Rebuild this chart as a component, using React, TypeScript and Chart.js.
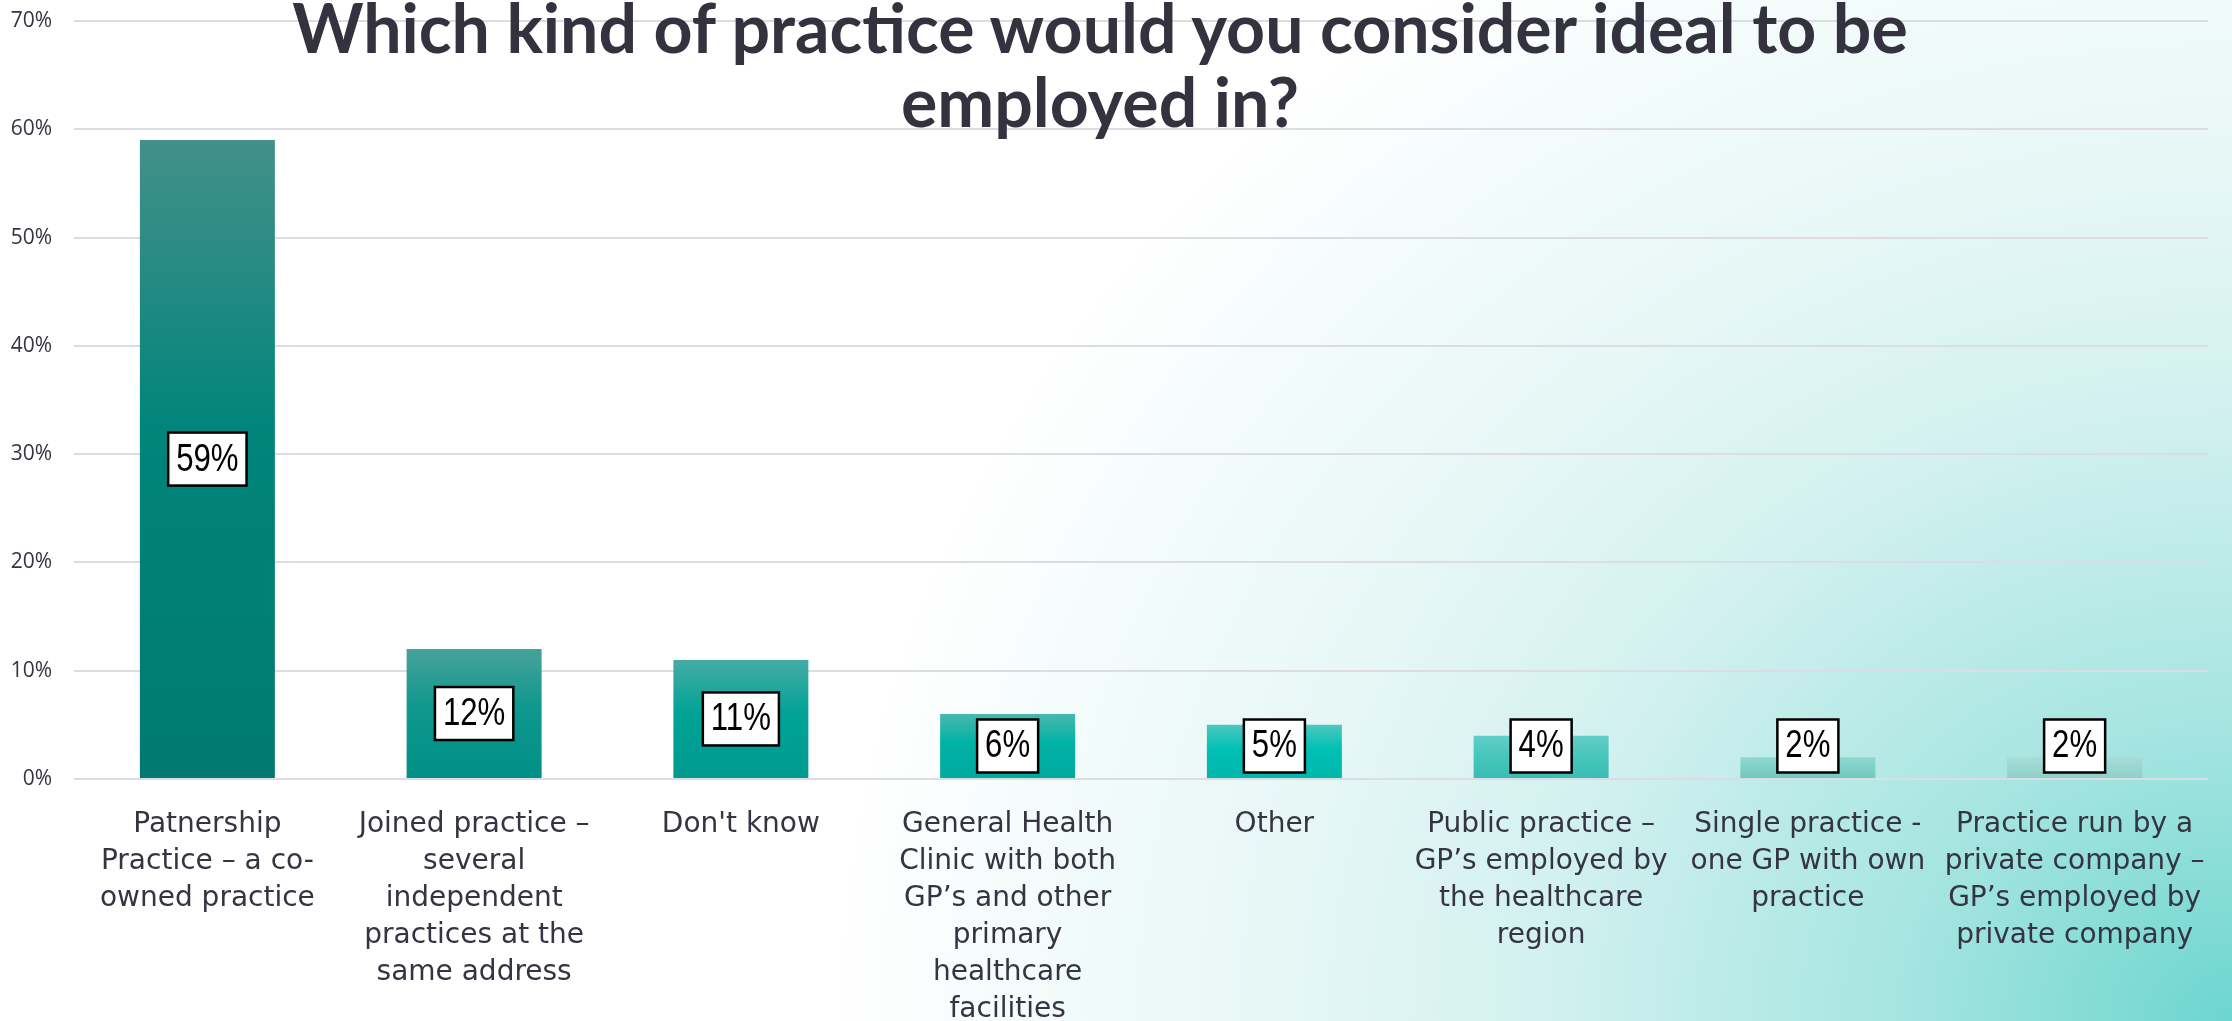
import React, { useEffect, useRef } from "react";
import { Chart, registerables } from "chart.js";

Chart.register(...registerables);

const titleLines: string[] = [
  "Which kind of practice would you consider ideal to be",
  "employed in?",
];

const categories: string[][] = [
  ["Patnership", "Practice – a co-", "owned practice"],
  ["Joined practice –", "several", "independent", "practices at the", "same address"],
  ["Don't know"],
  ["General Health", "Clinic with both", "GP’s and other", "primary", "healthcare", "facilities"],
  ["Other"],
  ["Public practice –", "GP’s employed by", "the healthcare", "region"],
  ["Single practice -", "one GP with own", "practice"],
  ["Practice run by a", "private company –", "GP’s employed by", "private company"],
];

const values: number[] = [59, 12, 11, 6, 5, 4, 2, 2];

const yMin = 0;
const yMax = 70;
const yStep = 10;

const barTopColors: string[] = ["#44908a", "#46a29a", "#45aca4", "#47b8ae", "#4cc8c0", "#62cfc7", "#8fd8d1", "#a9dcd7"];
const barMidColors: string[] = ["#00857b", "#0f988e", "#00a397", "#00b2a6", "#00c0b5", "#48c6bd", "#7fd0c9", "#9bd6d0"];
const barBottomColors: string[] = ["#007a72", "#008f86", "#009a8f", "#00aa9f", "#00b7ab", "#38bdb3", "#71c8c0", "#8ecfc8"];

const FONT_LABEL = "'DejaVu Sans', sans-serif";
const FONT_BOX = "'Liberation Sans', Arial, sans-serif";

const boxLabelPlugin = {
  id: "boxLabels",
  afterDatasetsDraw(chart: any) {
    const ctx = chart.ctx as CanvasRenderingContext2D;
    const meta = chart.getDatasetMeta(0);
    const zeroY = chart.scales.y.getPixelForValue(0);
    const squeeze = 0.82;
    ctx.save();
    ctx.font = `38px ${FONT_BOX}`;
    meta.data.forEach((bar: any, i: number) => {
      const text = `${values[i]}%`;
      const tw = ctx.measureText(text).width * squeeze;
      const w = tw + 16;
      const h = 53;
      const cy = Math.min((bar.y + bar.base) / 2, zeroY - 33);
      const x = bar.x - w / 2;
      const y = cy - h / 2;
      ctx.fillStyle = "#ffffff";
      ctx.fillRect(x, y, w, h);
      ctx.lineWidth = 2.5;
      ctx.strokeStyle = "#000000";
      ctx.strokeRect(x, y, w, h);
      ctx.save();
      ctx.translate(bar.x, cy + 1);
      ctx.scale(squeeze, 1);
      ctx.fillStyle = "#000000";
      ctx.textAlign = "center";
      ctx.textBaseline = "middle";
      ctx.fillText(text, 0, 0);
      ctx.restore();
    });
    ctx.restore();
  },
};

export default function App() {
  const canvasRef = useRef<HTMLCanvasElement | null>(null);

  useEffect(() => {
    if (!canvasRef.current) return;
    const chart = new Chart(canvasRef.current, {
      type: "bar",
      data: {
        labels: categories,
        datasets: [
          {
            data: values,
            backgroundColor: (c: any) => {
              const ch = c.chart;
              const i = c.dataIndex;
              if (!ch.chartArea || i === undefined) return barMidColors[i ?? 0];
              const ys = ch.scales.y;
              const top = ys.getPixelForValue(values[i]);
              const bottom = ys.getPixelForValue(0);
              const g = ch.ctx.createLinearGradient(0, top, 0, bottom);
              g.addColorStop(0, barTopColors[i]);
              g.addColorStop(0.45, barMidColors[i]);
              g.addColorStop(1, barBottomColors[i]);
              return g;
            },
            borderWidth: 0,
            categoryPercentage: 1,
            barPercentage: 0.506,
          },
        ],
      },
      options: {
        responsive: false,
        animation: false,
        devicePixelRatio: 1,
        layout: { padding: { left: 0, right: 24, top: 21, bottom: 0 } },
        plugins: {
          legend: { display: false },
          tooltip: { enabled: false },
          title: { display: false },
        },
        scales: {
          x: {
            grid: { display: false },
            border: { display: false },
            ticks: {
              maxRotation: 0,
              minRotation: 0,
              autoSkip: false,
              padding: 19,
              color: "#363442",
              font: { family: FONT_LABEL, size: 28, lineHeight: 1.32 },
            },
            afterFit: (scale: any) => {
              scale.height = 242;
            },
          },
          y: {
            min: yMin,
            max: yMax,
            grid: {
              color: "#dcdce4",
              lineWidth: 2,
              drawTicks: true,
              tickLength: 22,
              tickColor: "rgba(0,0,0,0)",
            },
            border: { display: false },
            ticks: {
              stepSize: yStep,
              padding: 0,
              color: "#363442",
              font: { family: "'Open Sans', sans-serif", size: 21 },
              callback: (v: any) => `${v}%`,
            },
            afterFit: (scale: any) => {
              scale.width = 74;
            },
          },
        },
      },
      plugins: [boxLabelPlugin],
    } as any);
    return () => chart.destroy();
  }, []);

  return (
    <div
      style={{
        position: "absolute",
        left: 0,
        top: 0,
        width: 2232,
        height: 1021,
        overflow: "hidden",
        background:
          "radial-gradient(ellipse 1400px 1250px at 100% 100%, #6dd5cf 0%, #a6e5e1 24%, #d3f1f0 50%, #e6f7f6 68%, #f3fbfb 85%, #ffffff 100%)",
      }}
    >
      <canvas ref={canvasRef} width={2232} height={1021} style={{ position: "absolute", left: 0, top: 0 }} />
      <div
        style={{
          position: "absolute",
          left: 0,
          top: -10,
          width: 2200,
          textAlign: "center",
          fontFamily: "Lato, sans-serif",
          fontWeight: 700,
          fontSize: 68,
          lineHeight: "74px",
          color: "#35323f",
          pointerEvents: "none",
        }}
      >
        {titleLines.map((l, i) => (
          <div key={i}>{l}</div>
        ))}
      </div>
    </div>
  );
}
